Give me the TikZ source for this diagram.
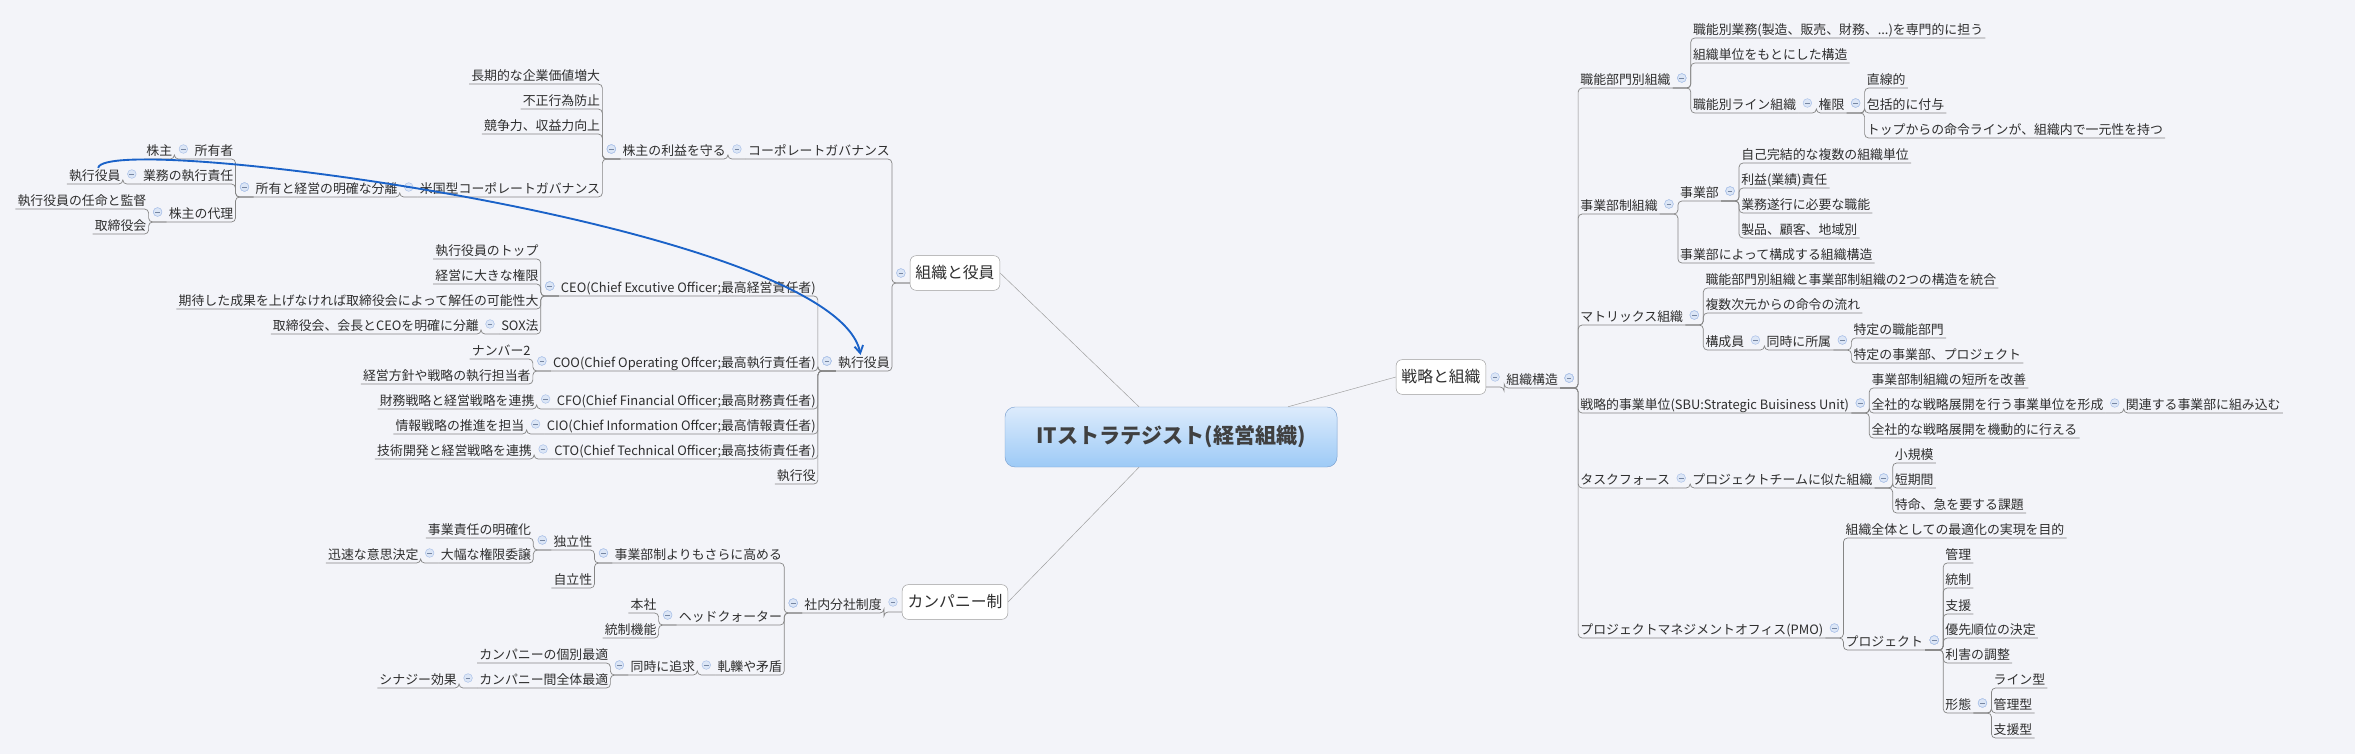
\documentclass[tikz,border=0pt]{standalone}
\usepackage{fontspec}
\setmainfont{Noto Sans CJK JP}
\usetikzlibrary{calc,arrows.meta}
\definecolor{bgc}{HTML}{F3F4F9}
\definecolor{lnc}{HTML}{858585}
\definecolor{txc}{HTML}{2E2E2E}
\definecolor{mkf}{HTML}{DCE6F6}
\definecolor{mkd}{HTML}{A9C0E8}
\definecolor{arr}{HTML}{1A62C8}
\definecolor{rtd}{HTML}{7AA0D0}
\definecolor{rtt}{HTML}{DCEBFC}
\definecolor{rtb}{HTML}{9DCAF6}
\definecolor{rtx}{HTML}{404040}
\tikzset{
 t/.style={font=\fontsize{11}{13}\selectfont, text=txc, inner xsep=0.6mm, inner ysep=0.5mm, text height=3.1mm, text depth=0.6mm},
 ln/.style={draw=lnc, line width=0.6pt, rounded corners=1.2mm},
 mk/.style={circle, draw=mkd, fill=mkf, line width=0.4pt, minimum size=2.6mm, inner sep=0pt,
   path picture={\draw[mkd!70!black, line width=0.5pt] ([xshift=-0.7mm]path picture bounding box.center) -- ([xshift=0.7mm]path picture bounding box.center);}},
 box/.style={draw=lnc!80, fill=white, rounded corners=1.8mm, font=\fontsize{13.5}{15}\selectfont, text=txc, inner xsep=1.6mm, minimum height=10.4mm},
 zp/.style={inner sep=0pt, minimum size=0pt, outer sep=0pt},
 rl/.style={draw=lnc!80, line width=0.4pt},
}
\newcommand\Rc[4]{%
 \path (#1.south east) ++(18,0) coordinate (#2-tr);
 \node[t,anchor=south west] (#2) at (#2-tr |- 0,#3) {#4};
 \draw[ln] (#1.south east) -- (#2-tr) |- (#2.south east);
 \node[mk] at ($(#1.south east)+(9,-10)$) {};}
\newcommand\Lc[4]{%
 \path (#1.south west) ++(-18,0) coordinate (#2-tr);
 \node[t,anchor=south east] (#2) at (#2-tr |- 0,#3) {#4};
 \draw[ln] (#1.south west) -- (#2-tr) |- (#2.south west);
 \node[mk] at ($(#1.south west)+(-9,-10)$) {};}
\begin{document}
\begin{tikzpicture}[x=0.3mm,y=-0.3mm]
\fill[bgc] (0,0) rectangle (2355,754);
\useasboundingbox (0,0) rectangle (2355,754);
% root
\node[draw=rtd, top color=rtt, bottom color=rtb, rounded corners=3mm,
  minimum width=99.6mm, minimum height=18mm, font=\fontsize{18}{20}\selectfont\bfseries, text=rtx] (root) at (1171,437) {ITストラテジスト(経営組織)};
\node[box] (b1) at (955,273) {組織と役員};
\node[box] (b2) at (955,602) {カンパニー制};
\node[box] (b3) at (1441,377) {戦略と組織};
\draw[rl] ([xshift=-9.6mm]root.north) -- (b1.east);
\draw[rl] ([xshift=-9.6mm]root.south) -- (b2.east);
\draw[rl] ([xshift=35.1mm]root.north) -- (b3.west);
\node[zp,anchor=south west] (b1p) at ($(b1.west)+(0,10)$) {};
\node[zp,anchor=south west] (b2p) at ($(b2.west)+(0,10)$) {};
\node[zp,anchor=south east] (b3p) at ($(b3.east)+(0,10)$) {};
% left: 組織と役員
\Lc{b1p}{cg}{159}{コーポレートガバナンス}
\Lc{cg}{kabu}{159}{株主の利益を守る}
\Lc{kabu}{a1}{84}{長期的な企業価値増大}
\Lc{kabu}{a2}{109}{不正行為防止}
\Lc{kabu}{a3}{134}{競争力、収益力向上}
\Lc{kabu}{bei}{197}{米国型コーポレートガバナンス}
\Lc{bei}{bunri}{197}{所有と経営の明確な分離}
\Lc{bunri}{shoyu}{159}{所有者}
\Lc{shoyu}{kabunushi}{159}{株主}
\Lc{bunri}{gyomu}{184}{業務の執行責任}
\Lc{gyomu}{exL}{184}{執行役員}
\Lc{bunri}{dairi}{222}{株主の代理}
\Lc{dairi}{ninmei}{209}{執行役員の任命と監督}
\Lc{dairi}{tori}{234}{取締役会}
\Lc{b1p}{exR}{371}{執行役員}
\Lc{exR}{ceo}{296}{CEO(Chief Excutive Officer;最高経営責任者)}
\Lc{ceo}{c1}{259}{執行役員のトップ}
\Lc{ceo}{c2}{284}{経営に大きな権限}
\Lc{ceo}{c3}{309}{期待した成果を上げなければ取締役会によって解任の可能性大}
\Lc{ceo}{sox}{334}{SOX法}
\Lc{sox}{c4}{334}{取締役会、会長とCEOを明確に分離}
\Lc{exR}{coo}{371}{COO(Chief Operating Offcer;最高執行責任者)}
\Lc{coo}{o1}{359}{ナンバー2}
\Lc{coo}{o2}{384}{経営方針や戦略の執行担当者}
\Lc{exR}{cfo}{409}{CFO(Chief Financial Officer;最高財務責任者)}
\Lc{cfo}{f1}{409}{財務戦略と経営戦略を連携}
\Lc{exR}{cio}{434}{CIO(Chief Information Offcer;最高情報責任者)}
\Lc{cio}{i1}{434}{情報戦略の推進を担当}
\Lc{exR}{cto}{459}{CTO(Chief Technical Officer;最高技術責任者)}
\Lc{cto}{t1}{459}{技術開発と経営戦略を連携}
\Lc{exR}{yaku}{484}{執行役}
% left: カンパニー制
\Lc{b2p}{bunsha}{613}{社内分社制度}
\Lc{bunsha}{takame}{563}{事業部制よりもさらに高める}
\Lc{takame}{dokuritsu}{550}{独立性}
\Lc{dokuritsu}{d1}{538}{事業責任の明確化}
\Lc{dokuritsu}{ijo}{563}{大幅な権限委譲}
\Lc{ijo}{d2}{563}{迅速な意思決定}
\Lc{takame}{jiritsu}{588}{自立性}
\Lc{bunsha}{hq}{625}{ヘッドクォーター}
\Lc{hq}{h1}{613}{本社}
\Lc{hq}{h2}{638}{統制機能}
\Lc{bunsha}{atsu}{675}{軋轢や矛盾}
\Lc{atsu}{doji}{675}{同時に追求}
\Lc{doji}{k1}{663}{カンパニーの個別最適}
\Lc{doji}{zentai}{688}{カンパニー間全体最適}
\Lc{zentai}{k2}{688}{シナジー効果}
% right: 戦略と組織
\Rc{b3p}{kozo}{388}{組織構造}
\Rc{kozo}{shokuno}{88}{職能部門別組織}
\Rc{shokuno}{s1}{38}{職能別業務(製造、販売、財務、...)を専門的に担う}
\Rc{shokuno}{s2}{63}{組織単位をもとにした構造}
\Rc{shokuno}{lineorg}{113}{職能別ライン組織}
\Rc{lineorg}{kengen}{113}{権限}
\Rc{kengen}{s3}{88}{直線的}
\Rc{kengen}{s4}{113}{包括的に付与}
\Rc{kengen}{s5}{138}{トップからの命令ラインが、組織内で一元性を持つ}
\Rc{kozo}{jigyo}{214}{事業部制組織}
\Rc{jigyo}{jbu}{201}{事業部}
\Rc{jbu}{j1}{163}{自己完結的な複数の組織単位}
\Rc{jbu}{j2}{188}{利益(業績)責任}
\Rc{jbu}{j3}{213}{業務遂行に必要な職能}
\Rc{jbu}{j4}{238}{製品、顧客、地域別}
\Rc{jigyo}{j5}{263}{事業部によって構成する組織構造}
\Rc{kozo}{matrix}{325}{マトリックス組織}
\Rc{matrix}{m1}{288}{職能部門別組織と事業部制組織の2つの構造を統合}
\Rc{matrix}{m2}{313}{複数次元からの命令の流れ}
\Rc{matrix}{kosei}{350}{構成員}
\Rc{kosei}{shozoku}{350}{同時に所属}
\Rc{shozoku}{m3}{338}{特定の職能部門}
\Rc{shozoku}{m4}{363}{特定の事業部、プロジェクト}
\Rc{kozo}{sbu}{413}{戦略的事業単位(SBU:Strategic Buisiness Unit)}
\Rc{sbu}{u1}{388}{事業部制組織の短所を改善}
\Rc{sbu}{u2}{413}{全社的な戦略展開を行う事業単位を形成}
\Rc{u2}{u3}{413}{関連する事業部に組み込む}
\Rc{sbu}{u4}{438}{全社的な戦略展開を機動的に行える}
\Rc{kozo}{task}{488}{タスクフォース}
\Rc{task}{pjt}{488}{プロジェクトチームに似た組織}
\Rc{pjt}{p1}{463}{小規模}
\Rc{pjt}{p2}{488}{短期間}
\Rc{pjt}{p3}{513}{特命、急を要する課題}
\Rc{kozo}{pmo}{638}{プロジェクトマネジメントオフィス(PMO)}
\Rc{pmo}{q1}{538}{組織全体としての最適化の実現を目的}
\Rc{pmo}{proj}{650}{プロジェクト}
\Rc{proj}{r1}{563}{管理}
\Rc{proj}{r2}{588}{統制}
\Rc{proj}{r3}{614}{支援}
\Rc{proj}{r4}{638}{優先順位の決定}
\Rc{proj}{r5}{663}{利害の調整}
\Rc{proj}{keitai}{713}{形態}
\Rc{keitai}{k3}{688}{ライン型}
\Rc{keitai}{k4}{713}{管理型}
\Rc{keitai}{k5}{738}{支援型}
% relation arrow
\draw[arr, line width=1.6pt, -{Straight Barb[length=2.2mm,width=2.6mm]}]
  ([xshift=1mm]exL.north) .. controls (105,130) and (835,225) .. ([xshift=-1mm]exR.north);
\end{tikzpicture}
\end{document}
